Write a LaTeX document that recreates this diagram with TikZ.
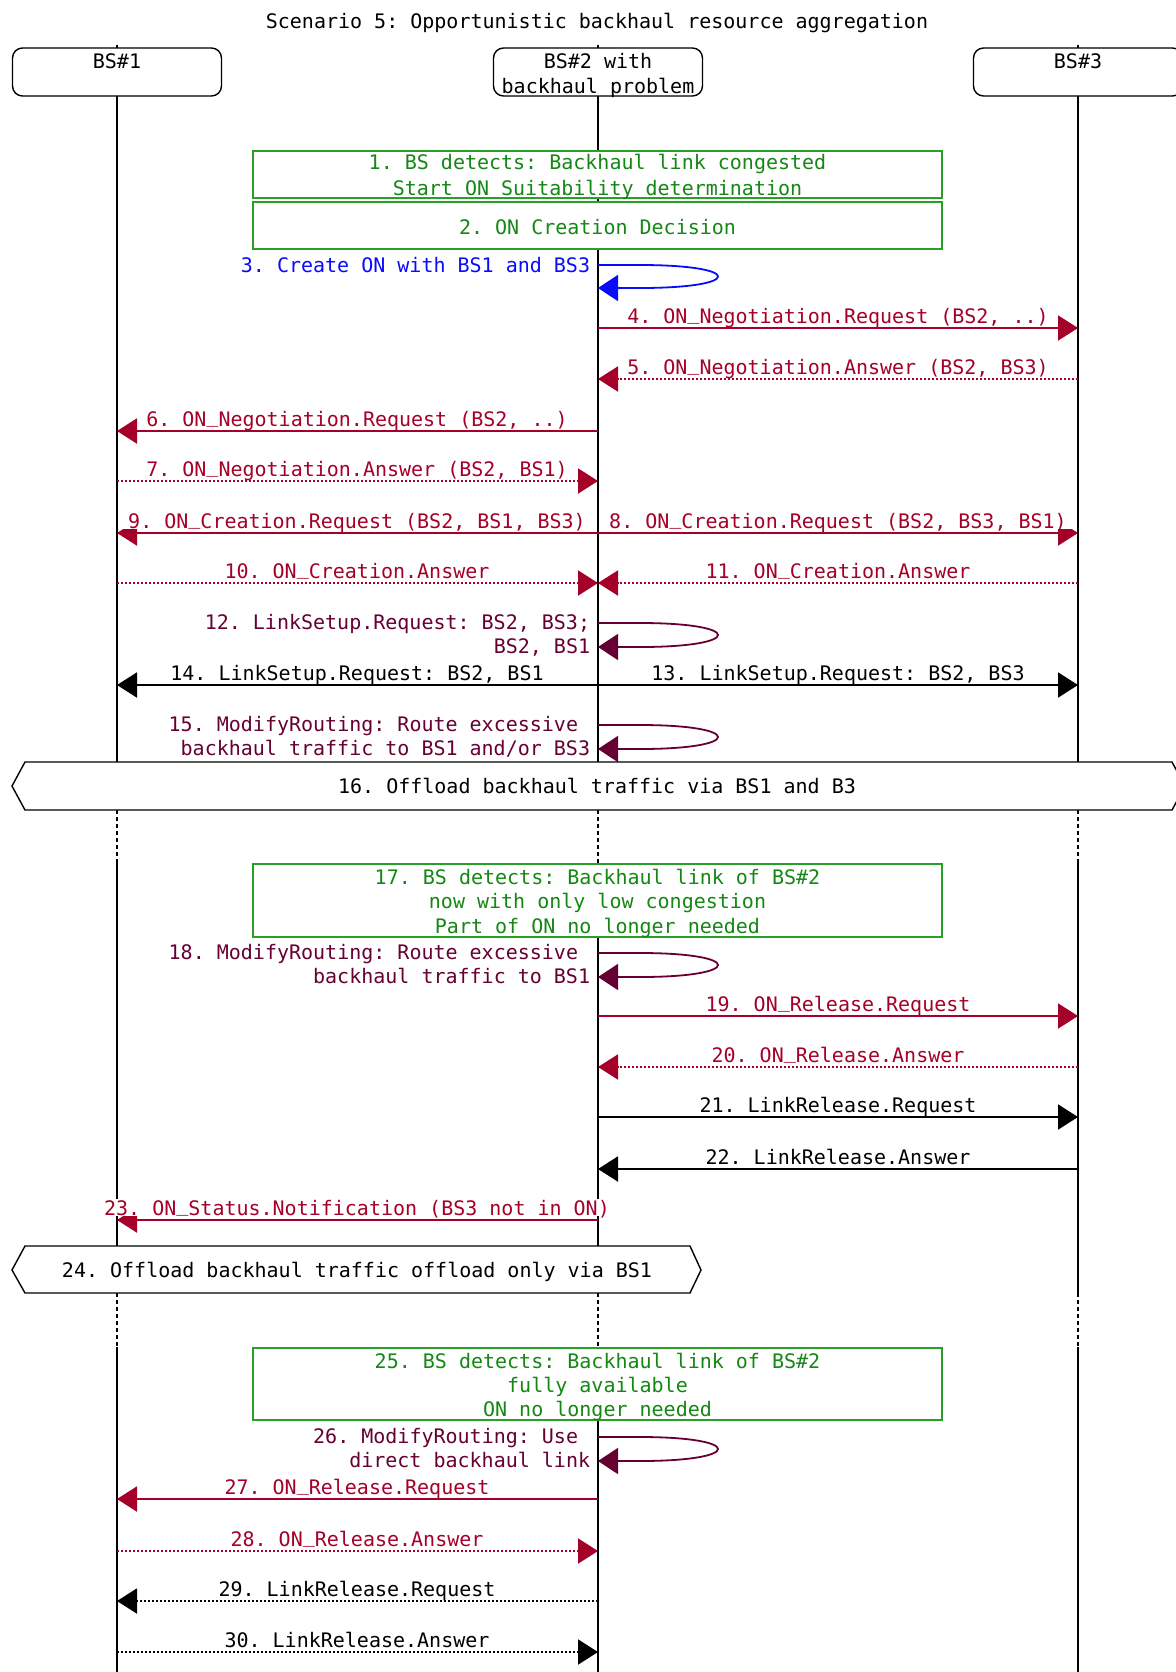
\documentclass[tikz,border=0pt]{standalone}
\usepackage{fontspec}
\setmonofont{DejaVu Sans Mono}
\usetikzlibrary{arrows.meta}

\definecolor{onred}{RGB}{165,0,40}
\definecolor{loopvio}{RGB}{102,0,51}
\definecolor{loopblue}{RGB}{10,10,255}
\definecolor{notegreen}{RGB}{40,160,40}
\definecolor{notetext}{RGB}{20,135,20}

% underscore set close to the baseline, clear of the message line below it
\newcommand{\usc}{\raisebox{2pt}{\_}}

% self-referencing arc on the BS#2 lifeline: #1 name, #2 top y, #3 bottom y, #4 colour
\newcommand{\selfarc}[4]{%
  \coordinate (#1s) at (598,#2);
  \coordinate (#1e) at (598,#3);
  \draw[selfloop, #4] (#1s) -- (640,#2) .. controls (744,#2) and (744,#3) .. (640,#3) -- (#1e);
}

\begin{document}
\begin{tikzpicture}[x=0.5pt,y=-0.5pt,
  every node/.style={font=\ttfamily\fontsize{10pt}{12pt}\selectfont, inner sep=0pt},
  lifeline/.style={draw=black, line width=0.6pt},
  lifegap/.style={lifeline, dash pattern=on 2pt off 1.5pt},
  headbox/.style={draw=black, line width=0.7pt, rounded corners=5pt, fill=white,
                  minimum width=104.5pt, minimum height=24pt},
  msg/.style={line width=1pt, -{Triangle[length=10pt,width=12.5pt]}},
  ans/.style={msg, dash pattern=on 1pt off 1pt},
  selfloop/.style={line width=0.9pt, -{Triangle[length=10pt,width=13pt]}},
  lbl/.style={fill=white, anchor=base, inner xsep=2.5pt, inner ysep=0.3pt, text depth=0pt},
  rlbl/.style={lbl, anchor=base east},
  note/.style={draw=notegreen, line width=0.8pt, fill=white, minimum width=344.5pt},
  notetxt/.style={anchor=base, text=notetext},
  offload/.style={draw=black, line width=0.7pt, fill=white},
]
\useasboundingbox (0,0) rectangle (1176,1672);
\fill[white] (0,0) rectangle (1176,1672);

% title
\node[anchor=base] (title) at (597,28) {Scenario 5: Opportunistic backhaul resource aggregation};

% lifelines
\foreach \lx in {117,598,1078}{
  \draw[lifeline] (\lx,45) -- (\lx,810);
  \draw[lifegap]  (\lx,810) -- (\lx,863);
  \draw[lifeline] (\lx,863) -- (\lx,1293);
  \draw[lifegap]  (\lx,1293) -- (\lx,1347);
  \draw[lifeline] (\lx,1347) -- (\lx,1672);
}

% participants
\node[headbox] (bs1) at (117,72) {};
\node[headbox] (bs2) at (598,72) {};
\node[headbox] (bs3) at (1078,72) {};
\node[anchor=base] (bs1t) at (117,68) {BS\#1};
\node[anchor=base] (bs2t) at (598,68) {BS\#2 with};
\node[anchor=base] (bs2u) at (598,93) {backhaul problem};
\node[anchor=base] (bs3t) at (1078,68) {BS\#3};

% 1, 2: decisions at BS#2
\node[note, minimum height=23.5pt] (n1) at (597.5,174.5) {};
\node[notetxt] (n1a) at (597.5,169) {1. BS detects: Backhaul link congested};
\node[notetxt] (n1b) at (597.5,195) {Start ON Suitability determination};
\node[note, minimum height=23.5pt] (n2) at (597.5,225.5) {};
\node[notetxt] (n2a) at (597.5,234) {2. ON Creation Decision};

% 3
\selfarc{l3}{265}{288}{loopblue}
\node[rlbl, text=loopblue] (t3) at (595.5,272) {3. Create ON with BS1 and BS3};

% 4
\coordinate (m4s) at (598,328); \coordinate (m4e) at (1078,328);
\draw[msg, onred] (m4s) -- (m4e);
\node[lbl, text=onred] (t4) at (838,323) {4. ON\usc Negotiation.Request (BS2, ..)};

% 5
\coordinate (m5s) at (1078,379); \coordinate (m5e) at (598,379);
\draw[ans, onred] (m5s) -- (m5e);
\node[lbl, text=onred] (t5) at (838,374) {5. ON\usc Negotiation.Answer (BS2, BS3)};

% 6
\coordinate (m6s) at (598,431); \coordinate (m6e) at (117,431);
\draw[msg, onred] (m6s) -- (m6e);
\node[lbl, text=onred] (t6) at (357,426) {6. ON\usc Negotiation.Request (BS2, ..)};

% 7
\coordinate (m7s) at (117,481); \coordinate (m7e) at (598,481);
\draw[ans, onred] (m7s) -- (m7e);
\node[lbl, text=onred] (t7) at (357,476) {7. ON\usc Negotiation.Answer (BS2, BS1)};

% 8, 9
\coordinate (m8s) at (598,533); \coordinate (m8e) at (1078,533);
\coordinate (m9e) at (117,533);
\draw[msg, onred] (m8s) -- (m8e);
\draw[msg, onred] (m8s) -- (m9e);
\node[lbl, text=onred] (t8) at (838,528) {8. ON\usc Creation.Request (BS2, BS3, BS1)};
\node[lbl, text=onred] (t9) at (357,528) {9. ON\usc Creation.Request (BS2, BS1, BS3)};

% 10, 11
\coordinate (m10s) at (117,583); \coordinate (m10e) at (598,583);
\coordinate (m11s) at (1078,583);
\draw[ans, onred] (m10s) -- (m10e);
\draw[ans, onred] (m11s) -- (m10e);
\node[lbl, text=onred] (t10) at (357,578) {10. ON\usc Creation.Answer};
\node[lbl, text=onred] (t11) at (838,578) {11. ON\usc Creation.Answer};

% 12
\selfarc{l12}{623}{647}{loopvio}
\node[rlbl, text=loopvio] (t12a) at (595.5,629) {12. LinkSetup.Request: BS2, BS3;};
\node[rlbl, text=loopvio] (t12b) at (595.5,653) {BS2, BS1};

% 13, 14
\coordinate (m13s) at (598,685); \coordinate (m13e) at (1078,685);
\coordinate (m14e) at (117,685);
\draw[msg, black] (m13s) -- (m13e);
\draw[msg, black] (m13s) -- (m14e);
\node[lbl] (t13) at (838,680) {13. LinkSetup.Request: BS2, BS3};
\node[lbl] (t14) at (357,680) {14. LinkSetup.Request: BS2, BS1};

% 15
\selfarc{l15}{725}{749}{loopvio}
\node[rlbl, text=loopvio] (t15a) at (583.5,731) {15. ModifyRouting: Route excessive};
\node[rlbl, text=loopvio] (t15b) at (595.5,755) {backhaul traffic to BS1 and/or BS3};

% 16
\draw[offload] (12,786) -- (25,762) -- (1172,762) -- (1185,786) -- (1172,810) -- (25,810) -- cycle;
\node[anchor=base] (t16) at (597,793) {16. Offload backhaul traffic via BS1 and B3};

% 17
\node[note, minimum height=36.5pt] (n17) at (597.5,900.5) {};
\node[notetxt] (n17a) at (597.5,884) {17. BS detects: Backhaul link of BS\#2};
\node[notetxt] (n17b) at (597.5,908) {now with only low congestion};
\node[notetxt] (n17c) at (597.5,933) {Part of ON no longer needed};

% 18
\selfarc{l18}{953}{977}{loopvio}
\node[rlbl, text=loopvio] (t18a) at (583.5,959) {18. ModifyRouting: Route excessive};
\node[rlbl, text=loopvio] (t18b) at (595.5,983) {backhaul traffic to BS1};

% 19
\coordinate (m19s) at (598,1016); \coordinate (m19e) at (1078,1016);
\draw[msg, onred] (m19s) -- (m19e);
\node[lbl, text=onred] (t19) at (838,1011) {19. ON\usc Release.Request};

% 20
\coordinate (m20s) at (1078,1067); \coordinate (m20e) at (598,1067);
\draw[ans, onred] (m20s) -- (m20e);
\node[lbl, text=onred] (t20) at (838,1062) {20. ON\usc Release.Answer};

% 21
\coordinate (m21s) at (598,1117); \coordinate (m21e) at (1078,1117);
\draw[msg, black] (m21s) -- (m21e);
\node[lbl] (t21) at (838,1112) {21. LinkRelease.Request};

% 22
\coordinate (m22s) at (1078,1169); \coordinate (m22e) at (598,1169);
\draw[msg, black] (m22s) -- (m22e);
\node[lbl] (t22) at (838,1164) {22. LinkRelease.Answer};

% 23
\coordinate (m23s) at (598,1220); \coordinate (m23e) at (117,1220);
\draw[msg, onred] (m23s) -- (m23e);
\node[lbl, text=onred] (t23) at (357,1215) {23. ON\usc Status.Notification (BS3 not in ON)};

% 24
\draw[offload] (12,1270) -- (25,1246) -- (690,1246) -- (701,1270) -- (690,1293) -- (25,1293) -- cycle;
\node[anchor=base] (t24) at (357,1277) {24. Offload backhaul traffic offload only via BS1};

% 25
\node[note, minimum height=36pt] (n25) at (597.5,1384) {};
\node[notetxt] (n25a) at (597.5,1368) {25. BS detects: Backhaul link of BS\#2};
\node[notetxt] (n25b) at (597.5,1392) {fully available};
\node[notetxt] (n25c) at (597.5,1416) {ON no longer needed};

% 26
\selfarc{l26}{1437}{1461}{loopvio}
\node[rlbl, text=loopvio] (t26a) at (583.5,1443) {26. ModifyRouting: Use};
\node[rlbl, text=loopvio] (t26b) at (595.5,1467) {direct backhaul link};

% 27
\coordinate (m27s) at (598,1499); \coordinate (m27e) at (117,1499);
\draw[msg, onred] (m27s) -- (m27e);
\node[lbl, text=onred] (t27) at (357,1494) {27. ON\usc Release.Request};

% 28
\coordinate (m28s) at (117,1551); \coordinate (m28e) at (598,1551);
\draw[ans, onred] (m28s) -- (m28e);
\node[lbl, text=onred] (t28) at (357,1546) {28. ON\usc Release.Answer};

% 29
\coordinate (m29s) at (598,1601); \coordinate (m29e) at (117,1601);
\draw[ans, black] (m29s) -- (m29e);
\node[lbl] (t29) at (357,1596) {29. LinkRelease.Request};

% 30
\coordinate (m30s) at (117,1652); \coordinate (m30e) at (598,1652);
\draw[ans, black] (m30s) -- (m30e);
\node[lbl] (t30) at (357,1647) {30. LinkRelease.Answer};

\end{tikzpicture}
\end{document}
